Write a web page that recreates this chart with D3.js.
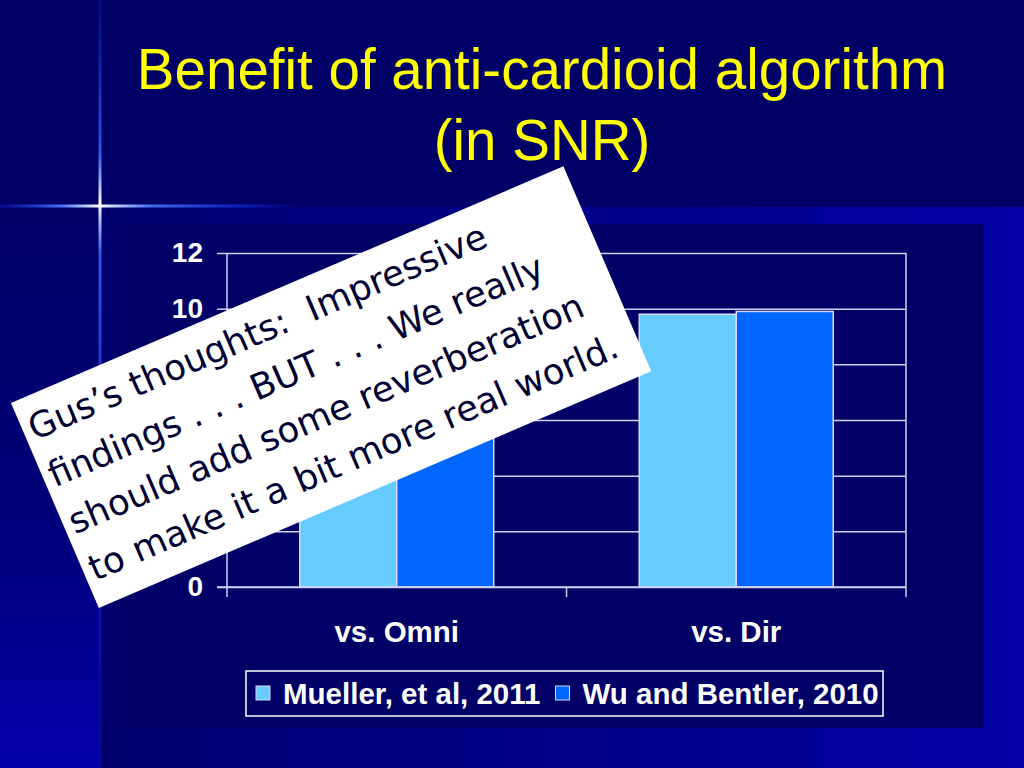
<!DOCTYPE html>
<html>
<head>
<meta charset="utf-8">
<script src="https://cdn.jsdelivr.net/npm/d3@7"></script>
<style>
  html, body { margin: 0; padding: 0; background: #000066; }
  svg { display: block; }
</style>
</head>
<body>
<div id="chart"></div>
<script>
// chart values
const categories = ['vs. Omni', 'vs. Dir'];
const seriesNames = ['Mueller, et al, 2011', 'Wu and Bentler, 2010'];
const seriesColors = ['#66ccff', '#0066ff'];
// vs. Omni values sit under the note box, so they are estimates
const muellerValues = [7.6, 9.8];
const wuValues = [8.3, 9.9];
const yTicks = [0, 2, 4, 6, 8, 10, 12];

const titleLines = ['Benefit of anti-cardioid algorithm', '(in SNR)'];
const noteLines = [
  'Gus\u2019s thoughts:  Impressive',
  'findings . . . BUT . . . We really',
  'should add some reverberation',
  'to make it a bit more real world.'
];

const W = 1024, H = 768;

const svg = d3.select('#chart')
  .append('svg')
  .attr('width', W)
  .attr('height', H);

const defs = svg.append('defs');

// slide background pieces
const outerGrad = defs.append('linearGradient')
  .attr('id', 'outerGrad')
  .attr('x1', 0).attr('y1', 0).attr('x2', 1).attr('y2', 0);
outerGrad.append('stop').attr('offset', '0%').attr('stop-color', '#000070');
outerGrad.append('stop').attr('offset', '75%').attr('stop-color', '#000098');
outerGrad.append('stop').attr('offset', '100%').attr('stop-color', '#0000a4');

const leftGrad = defs.append('linearGradient')
  .attr('id', 'leftGrad')
  .attr('x1', 0).attr('y1', 0).attr('x2', 0).attr('y2', 1);
leftGrad.append('stop').attr('offset', '0%').attr('stop-color', '#000066');
leftGrad.append('stop').attr('offset', '55%').attr('stop-color', '#00007a');
leftGrad.append('stop').attr('offset', '100%').attr('stop-color', '#0000aa');

const vGrad = defs.append('linearGradient')
  .attr('id', 'vGrad')
  .attr('gradientUnits', 'userSpaceOnUse')
  .attr('x1', 0).attr('y1', 0).attr('x2', 0).attr('y2', H);
[[0, '#1a3cff', 0.15], [0.2, '#3d6bff', 0.8], [0.265, '#ffffff', 1], [0.33, '#3d6bff', 0.8], [0.7, '#1a3cff', 0.4], [1, '#1a3cff', 0.1]]
  .forEach(s => vGrad.append('stop').attr('offset', s[0]).attr('stop-color', s[1]).attr('stop-opacity', s[2]));

const hGrad = defs.append('linearGradient')
  .attr('id', 'hGrad')
  .attr('gradientUnits', 'userSpaceOnUse')
  .attr('x1', 0).attr('y1', 0).attr('x2', 300).attr('y2', 0);
[[0, '#1a3cff', 0.2], [0.2, '#4d7bff', 0.9], [0.333, '#ffffff', 1], [0.5, '#4d7bff', 0.9], [0.8, '#1a3cff', 0.5], [1, '#1a3cff', 0]]
  .forEach(s => hGrad.append('stop').attr('offset', s[0]).attr('stop-color', s[1]).attr('stop-opacity', s[2]));

svg.append('rect').attr('width', W).attr('height', H).attr('fill', '#000066');
svg.append('rect').attr('x', 0).attr('y', 207).attr('width', 100).attr('height', H - 207).attr('fill', 'url(#leftGrad)');
svg.append('rect').attr('x', 100).attr('y', 207).attr('width', W - 100).attr('height', H - 207).attr('fill', 'url(#outerGrad)');
// chart panel
svg.append('rect').attr('x', 113).attr('y', 224).attr('width', 871).attr('height', 504).attr('fill', '#000066');

// sparkle lines
svg.append('rect').attr('x', 98.5).attr('y', 0).attr('width', 3).attr('height', H).attr('fill', 'url(#vGrad)');
svg.append('rect').attr('x', 0).attr('y', 204.5).attr('width', 300).attr('height', 3).attr('fill', 'url(#hGrad)');

// title
svg.append('g')
  .selectAll('text')
  .data(titleLines)
  .enter()
  .append('text')
  .attr('x', 542)
  .attr('y', (d, i) => 89 + i * 71)
  .attr('text-anchor', 'middle')
  .attr('font-family', 'Liberation Sans, Arial, sans-serif')
  .attr('font-size', 56.5)
  .attr('fill', '#ffff00')
  .text(d => d);

// scales
const x0 = d3.scaleBand().domain(categories).range([227, 906]).padding(0);
const x1 = d3.scaleBand().domain(seriesNames).range([0, x0.bandwidth()]).paddingInner(0).paddingOuter(0.75);
const y = d3.scaleLinear().domain([0, 12]).range([587, 253]);

const lineColor = '#d0d0f4';
const labelFont = 'Liberation Sans, Arial, sans-serif';

// gridlines via axis
const yAxis = svg.append('g')
  .attr('transform', 'translate(227,0)')
  .call(d3.axisLeft(y).tickValues(yTicks).tickSize(10).tickPadding(14).tickFormat(d3.format('d')));
yAxis.select('.domain').remove();
yAxis.selectAll('.tick line')
  .attr('x2', -10)
  .attr('stroke', lineColor)
  .attr('stroke-width', 1.5)
  .clone()
  .attr('x1', 0)
  .attr('x2', 906 - 227);
yAxis.selectAll('.tick text')
  .attr('fill', '#ffffff')
  .attr('font-family', labelFont)
  .attr('font-weight', 'bold')
  .attr('font-size', 28);

// plot area left / right edges
svg.append('g')
  .selectAll('line')
  .data([227, 906])
  .enter()
  .append('line')
  .attr('x1', d => d).attr('x2', d => d)
  .attr('y1', y(12)).attr('y2', y(0))
  .attr('stroke', lineColor)
  .attr('stroke-width', 1.5);

// bars
const seriesValues = [muellerValues, wuValues];
const groups = svg.append('g')
  .selectAll('g')
  .data(categories)
  .enter()
  .append('g')
  .attr('transform', d => `translate(${x0(d)},0)`);

groups.selectAll('rect')
  .data((d, ci) => seriesNames.map((s, si) => ({ s, si, v: seriesValues[si][ci] })))
  .enter()
  .append('rect')
  .attr('x', d => x1(d.s))
  .attr('y', d => y(d.v))
  .attr('width', x1.bandwidth())
  .attr('height', d => y(0) - y(d.v))
  .attr('fill', d => seriesColors[d.si])
  .attr('stroke', '#d8d8ff')
  .attr('stroke-width', 1.5);

// category axis
const xAxis = svg.append('g')
  .attr('transform', `translate(0,${y(0)})`)
  .call(d3.axisBottom(x0).tickSize(0).tickPadding(0));
xAxis.select('.domain')
  .attr('d', `M217,0H906`)
  .attr('stroke', lineColor)
  .attr('stroke-width', 1.5);
xAxis.selectAll('.tick text')
  .attr('y', 55)
  .attr('dy', 0)
  .attr('fill', '#ffffff')
  .attr('font-family', labelFont)
  .attr('font-weight', 'bold')
  .attr('font-size', 29.5);
// tick marks between categories
xAxis.append('g')
  .selectAll('line')
  .data([x0.range()[0], x0(categories[1]), x0.range()[1]])
  .enter()
  .append('line')
  .attr('x1', d => d).attr('x2', d => d)
  .attr('y1', 0).attr('y2', 10)
  .attr('stroke', lineColor)
  .attr('stroke-width', 1.5);

// legend
const legend = svg.append('g');
legend.append('rect')
  .attr('x', 246).attr('y', 671)
  .attr('width', 637).attr('height', 45)
  .attr('fill', 'none')
  .attr('stroke', '#ffffff')
  .attr('stroke-width', 1.5);
let lx = 256;
seriesNames.forEach((name, i) => {
  legend.append('rect')
    .attr('x', lx).attr('y', 686)
    .attr('width', 14).attr('height', 14)
    .attr('fill', seriesColors[i])
    .attr('stroke', '#d8d8ff')
    .attr('stroke-width', 1);
  const t = legend.append('text')
    .attr('x', lx + 27)
    .attr('y', 704)
    .attr('fill', '#ffffff')
    .attr('font-family', labelFont)
    .attr('font-weight', 'bold')
    .attr('font-size', 29.5)
    .text(name);
  lx = lx + 27 + t.node().getComputedTextLength() + 15;
});

// the rotated comment box on top
const note = svg.append('g')
  .attr('transform', 'translate(11,403) rotate(-23.2)');
note.append('rect')
  .attr('width', 601)
  .attr('height', 223)
  .attr('fill', '#ffffff');
note.selectAll('text')
  .data(noteLines)
  .enter()
  .append('text')
  .attr('x', 7)
  .attr('y', (d, i) => 44 + i * 51)
  .attr('font-family', 'DejaVu Sans, Verdana, sans-serif')
  .attr('font-size', 35.5)
  .attr('fill', '#000033')
  .style('white-space', 'pre')
  .text(d => d);
</script>
</body>
</html>
